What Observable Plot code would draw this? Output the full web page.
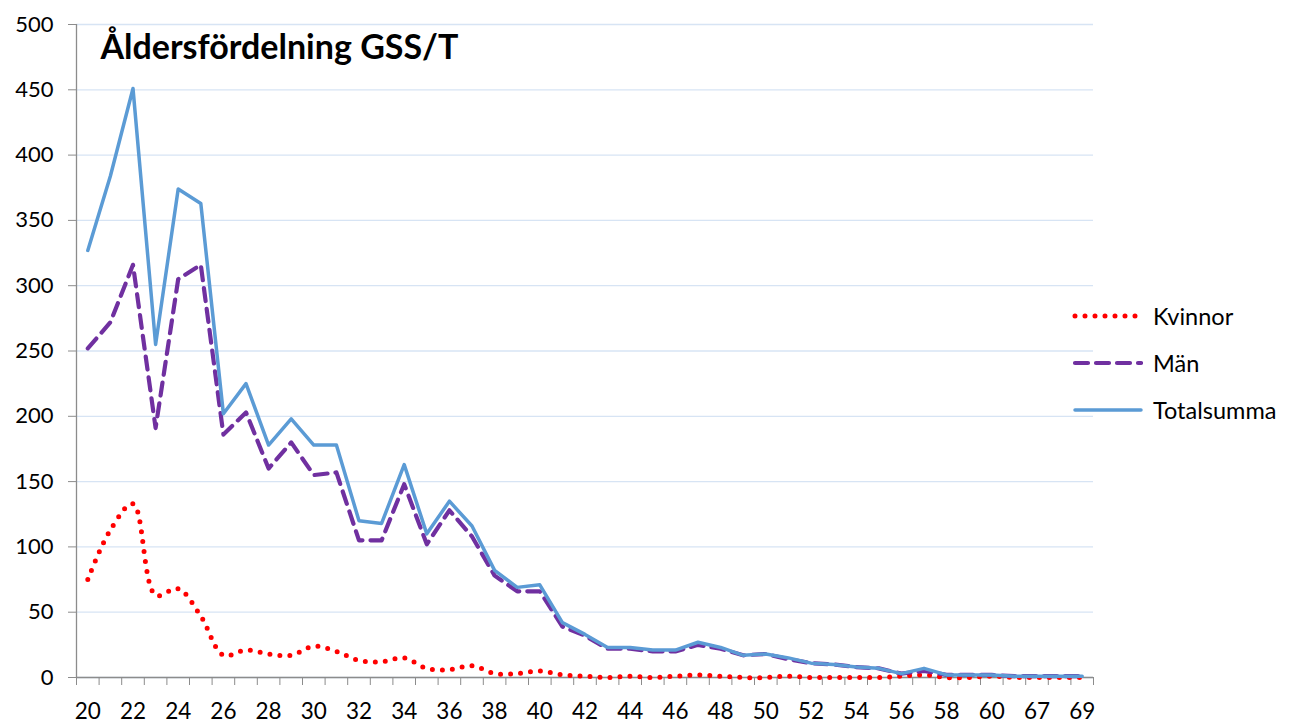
<!DOCTYPE html>
<html>
<head>
<meta charset="utf-8">
<script src="https://cdn.jsdelivr.net/npm/d3@7"></script>
<script src="https://cdn.jsdelivr.net/npm/@observablehq/plot@0.6"></script>
<style>
  html, body { margin: 0; padding: 0; background: #fff; }
  #wrap { position: relative; width: 1290px; height: 724px; font-family: Lato, "Open Sans", sans-serif; }
  #legend { position: absolute; left: 1071px; top: 292px; }
  .item { display: flex; align-items: center; height: 47px; font-size: 23.5px; color: #000; }
  .item svg { margin-right: 10px; }
</style>
</head>
<body>
<div id="wrap"></div>
<script>
const ages = ["20","21","22","23","24","25","26","27","28","29","30","31","32","33","34","35","36","37","38","39","40",
  "41","42","43","44","45","46","47","48","49","50","51","52","53","54","55","56","57","58","59","60","61","67","68","69"];
const kvinnor = [75,113,133,63,68,47,17,21,18,17,24,20,13,12,15,7,6,9,3,3,5,
  2,1,0,1,0,1,2,1,0,0,1,0,0,0,0,1,2,0,0,1,0,0,0,0];
const man = [252,272,316,191,305,316,186,203,160,180,155,157,105,105,148,102,128,108,78,66,66,
  39,32,22,22,20,20,25,22,17,18,14,11,10,8,7,3,5,2,2,2,1,1,1,1];
const total = [327,384,451,255,374,363,202,225,178,198,178,178,120,118,163,110,135,116,82,69,71,
  42,33,23,23,21,21,27,23,17,18,15,11,10,8,7,3,7,2,2,2,1,1,1,1];
const seriesNames = ["Kvinnor","Män","Totalsumma"];
const yTicks = [0,50,100,150,200,250,300,350,400,450,500];
const title = "Åldersfördelning GSS/T";

const colors = {Kvinnor: "#ff0000", "Män": "#7030a0", Totalsumma: "#5b9bd5"};
const styles = {Kvinnor: {d: "0 10", w: 5}, "Män": {d: "13 8", w: 4.2}, Totalsumma: {d: null, w: 3.5}};
const rows = (vals) => vals.map((v, i) => ({i, v}));
const idx = d3.range(ages.length);
const boundaries = d3.range(ages.length + 1).map(k => k - 0.5);
const labelIdx = idx.filter(i => i % 2 === 0);

const chart = Plot.plot({
  width: 1290, height: 724,
  marginLeft: 76, marginRight: 197, marginTop: 24, marginBottom: 47,
  style: {fontFamily: "Lato, 'Open Sans', sans-serif", fontSize: "22px", color: "#000", background: "#fff", overflow: "visible"},
  x: {type: "linear", domain: [-0.5, ages.length - 0.5]},
  y: {domain: [0, 500]},
  marks: [
    Plot.gridY(yTicks, {stroke: "#d7e4f4", strokeOpacity: 1, strokeWidth: 1.3}),
    Plot.ruleX([-0.5], {stroke: "#8c8c8c", strokeWidth: 1.3}),
    Plot.ruleY([0], {stroke: "#8c8c8c", strokeWidth: 1.3}),
    Plot.axisY({ticks: yTicks, tickSize: 8, tickPadding: 15, stroke: "#8c8c8c", fontSize: 22, label: null}),
    Plot.axisX({ticks: boundaries, tickSize: 8, tickFormat: () => "", stroke: "#8c8c8c", label: null}),
    Plot.axisX({ticks: labelIdx, tickSize: 0, tickPadding: 26, tickFormat: i => ages[i], fontSize: 22.5, label: null}),
    Plot.lineY(rows(kvinnor), {x: "i", y: "v", stroke: colors.Kvinnor, strokeWidth: styles.Kvinnor.w, strokeDasharray: styles.Kvinnor.d, strokeLinecap: "round", curve: "catmull-rom"}),
    Plot.lineY(rows(man), {x: "i", y: "v", stroke: colors["Män"], strokeWidth: styles["Män"].w, strokeDasharray: styles["Män"].d, strokeLinecap: "round"}),
    Plot.lineY(rows(total), {x: "i", y: "v", stroke: colors.Totalsumma, strokeWidth: styles.Totalsumma.w}),
    Plot.text([title], {text: d => d, frameAnchor: "top-left", dx: 24, dy: 10, fontSize: 34, fontWeight: "bold", textAnchor: "start", lineAnchor: "top", fill: "#000"})
  ]
});
const wrap = document.getElementById("wrap");
wrap.appendChild(chart);

const legend = document.createElement("div");
legend.id = "legend";
for (const s of seriesNames) {
  const it = document.createElement("div");
  it.className = "item";
  const sv = d3.create("svg").attr("width", 72).attr("height", 12);
  sv.append("line").attr("x1", 4).attr("x2", 70).attr("y1", 6).attr("y2", 6)
    .attr("stroke", colors[s]).attr("stroke-width", styles[s].w)
    .attr("stroke-linecap", "round")
    .attr("stroke-dasharray", styles[s].d);
  it.appendChild(sv.node());
  const t = document.createElement("span");
  t.textContent = s;
  it.appendChild(t);
  legend.appendChild(it);
}
wrap.appendChild(legend);
</script>
</body>
</html>
